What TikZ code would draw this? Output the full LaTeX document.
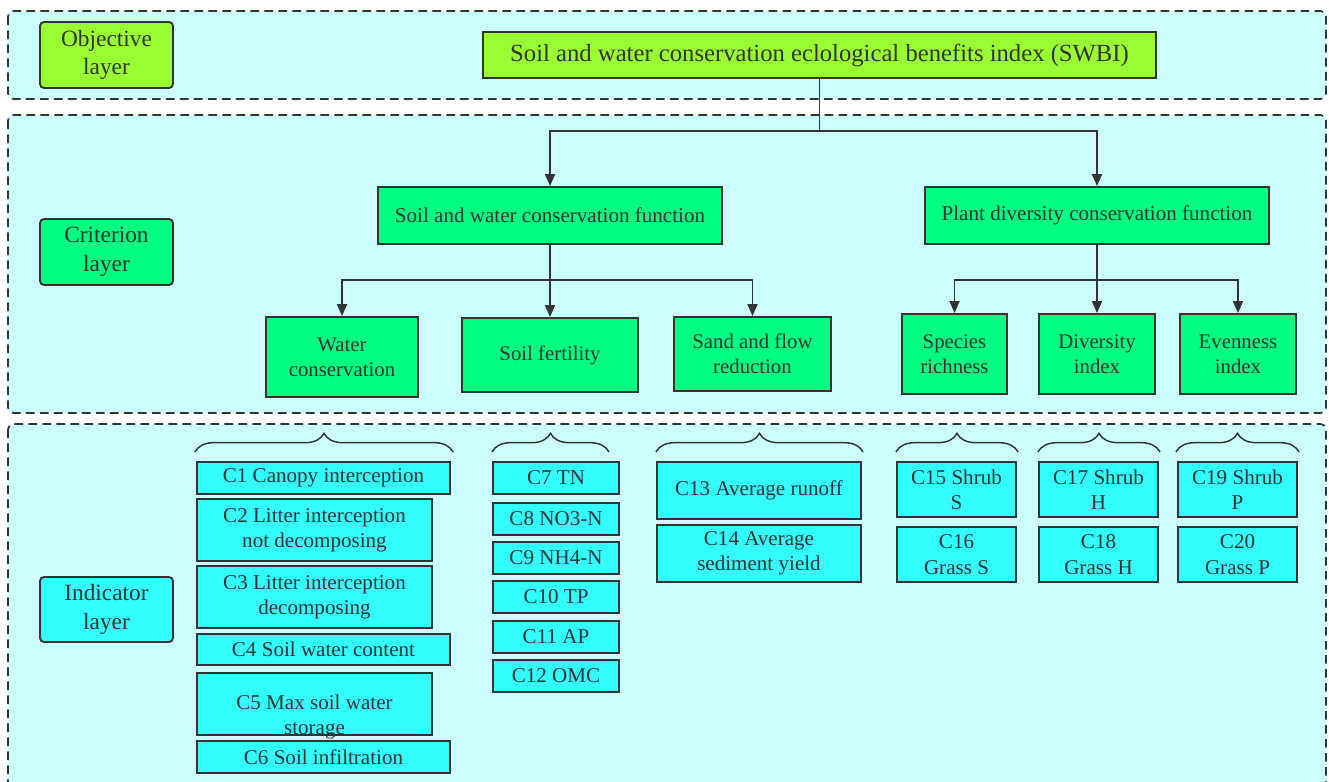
\documentclass[tikz,border=0pt]{standalone}
\usepackage{fontspec}
\setmainfont{Liberation Serif}
\usetikzlibrary{arrows.meta,decorations.pathreplacing}
\definecolor{bgc}{HTML}{CCFFFF}
\definecolor{cyn}{HTML}{33FFFF}
\definecolor{grn}{HTML}{00FF80}
\definecolor{ylg}{HTML}{99FF33}
\definecolor{edgec}{HTML}{333333}
\begin{document}
\begin{tikzpicture}[x=0.75pt,y=-0.75pt,
  layerbox/.style={draw=edgec, line width=1.3pt, dash pattern=on 6.5pt off 4pt, fill=bgc, rounded corners=4pt},
  bx/.style 2 args={draw=edgec, line width=1.4pt, align=center, inner sep=0pt, text=edgec,
     minimum width=#1*0.75pt, minimum height=#2*0.75pt},
  lab/.style={fill=ylg, rounded corners=3pt, font=\fontsize{17.5}{21.5}\selectfont},
  top/.style={fill=ylg, font=\fontsize{18.5}{22}\selectfont},
  crit/.style={fill=grn, font=\fontsize{15.8}{19}\selectfont},
  sub/.style={fill=grn, font=\fontsize{15.6}{19}\selectfont},
  ind/.style={fill=cyn, font=\fontsize{15.8}{19}\selectfont},
  conn/.style={draw=edgec, line width=1.4pt},
  arr/.style={conn, -{Triangle[length=9pt,width=7.5pt]}},
  brc/.style={draw=edgec, line width=1.1pt, decorate, decoration={brace, amplitude=14pt}}
]
\useasboundingbox (0,0) rectangle (1329,782);
\clip (0,0) rectangle (1329,782);
\fill[white] (0,0) rectangle (1329,782);

% layer frames
\draw[layerbox] (8,11) rectangle (1326,99);
\draw[layerbox] (8,115) rectangle (1326,413);
\draw[layerbox] (8,424) rectangle (1326,800);

% layer labels
\node[bx={133}{66}, lab, fill=ylg] (objl) at (106.5,55) {Objective\\layer};
\node[bx={133}{66}, lab, fill=grn] (crl) at (106.5,252) {Criterion\\layer};
\node[bx={133}{65}, lab, fill=cyn] (inl) at (106.5,609.5) {Indicator\\layer};

% objective
\node[bx={673}{46}, top] (swbi) at (819.5,55) {Soil and water conservation eclological benefits index (SWBI)};

% criteria
\node[bx={344}{57}, crit] (swc) at (550,215.5) {Soil and water conservation function};
\node[bx={344}{57}, crit] (pdc) at (1097,215.5) {Plant diversity conservation function};

\node[bx={152}{80}, sub] (wc) at (342,357) {Water\\conservation};
\node[bx={176}{74}, sub] (sf) at (550,355) {Soil fertility};
\node[bx={157}{74}, sub] (sr) at (752.5,354) {Sand and flow\\reduction};
\node[bx={105}{80}, sub] (spr) at (954.5,354) {Species\\richness};
\node[bx={116}{80}, sub] (di) at (1097,354) {Diversity\\index};
\node[bx={116}{80}, sub] (ei) at (1238,354) {Evenness\\index};

% connectors
\coordinate (j0) at (819.5,131);
\coordinate (j1) at (550,280);
\coordinate (j2) at (1097,280);
\draw[conn] (swbi.south) -- (j0);
\draw[arr] (j0) -| (swc.north);
\draw[arr] (j0) -| (pdc.north);
\draw[conn] (swc.south) -- (j1);
\draw[arr] (j1) -| (wc.north);
\draw[arr] (j1) -- (sf.north);
\draw[arr] (j1) -| (sr.north);
\draw[conn] (pdc.south) -- (j2);
\draw[arr] (j2) -| (spr.north);
\draw[arr] (j2) -- (di.north);
\draw[arr] (j2) -| (ei.north);

% braces
\draw[brc] (195,452) -- (453,452);
\draw[brc] (492,452) -- (609,452);
\draw[brc] (656,452) -- (863,452);
\draw[brc] (896,452) -- (1018,452);
\draw[brc] (1038,452) -- (1160,452);
\draw[brc] (1176,452) -- (1299,452);

% indicators: water conservation
\node[bx={253}{32}, ind] (c1) at (323.5,478) {C1 Canopy interception};
\node[bx={235}{62}, ind] (c2) at (314.5,530) {C2 Litter interception\\not decomposing};
\node[bx={235}{62}, ind] (c3) at (314.5,597) {C3 Litter interception\\decomposing};
\node[bx={253}{31}, ind] (c4) at (323.5,649.5) {C4 Soil water content};
\node[bx={235}{62}, ind] (c5) at (314.5,704) {};
\node[ind, fill=none, draw=none, align=center, inner sep=0pt, text=edgec] (c5t) at (314.5,717) {C5 Max soil water\\storage};
\node[bx={253}{32}, ind] (c6) at (323.5,757) {C6 Soil infiltration};

% soil fertility
\node[bx={126}{32}, ind] (c7) at (556,478) {C7 TN};
\node[bx={126}{32}, ind] (c8) at (556,519) {C8 NO3-N};
\node[bx={126}{32}, ind] (c9) at (556,558) {C9 NH4-N};
\node[bx={126}{32}, ind] (c10) at (556,597) {C10 TP};
\node[bx={126}{32}, ind] (c11) at (556,637) {C11 AP};
\node[bx={126}{32}, ind] (c12) at (556,676) {C12 OMC};

% sand and flow
\node[bx={204}{57}, ind] (c13) at (759,490.5) {C13 Average runoff};
\node[bx={204}{57}, ind] (c14) at (759,553.5) {C14 Average\\sediment yield};

% plant diversity
\node[bx={119}{55}, ind] (c15) at (956.5,489.5) {C15 Shrub\\S};
\node[bx={119}{55}, ind] (c16) at (956.5,554.5) {C16\\Grass S};
\node[bx={119}{55}, ind] (c17) at (1098.5,489.5) {C17 Shrub\\H};
\node[bx={119}{55}, ind] (c18) at (1098.5,554.5) {C18\\Grass H};
\node[bx={119}{55}, ind] (c19) at (1237.5,489.5) {C19 Shrub\\P};
\node[bx={119}{55}, ind] (c20) at (1237.5,554.5) {C20\\Grass P};
\end{tikzpicture}
\end{document}
